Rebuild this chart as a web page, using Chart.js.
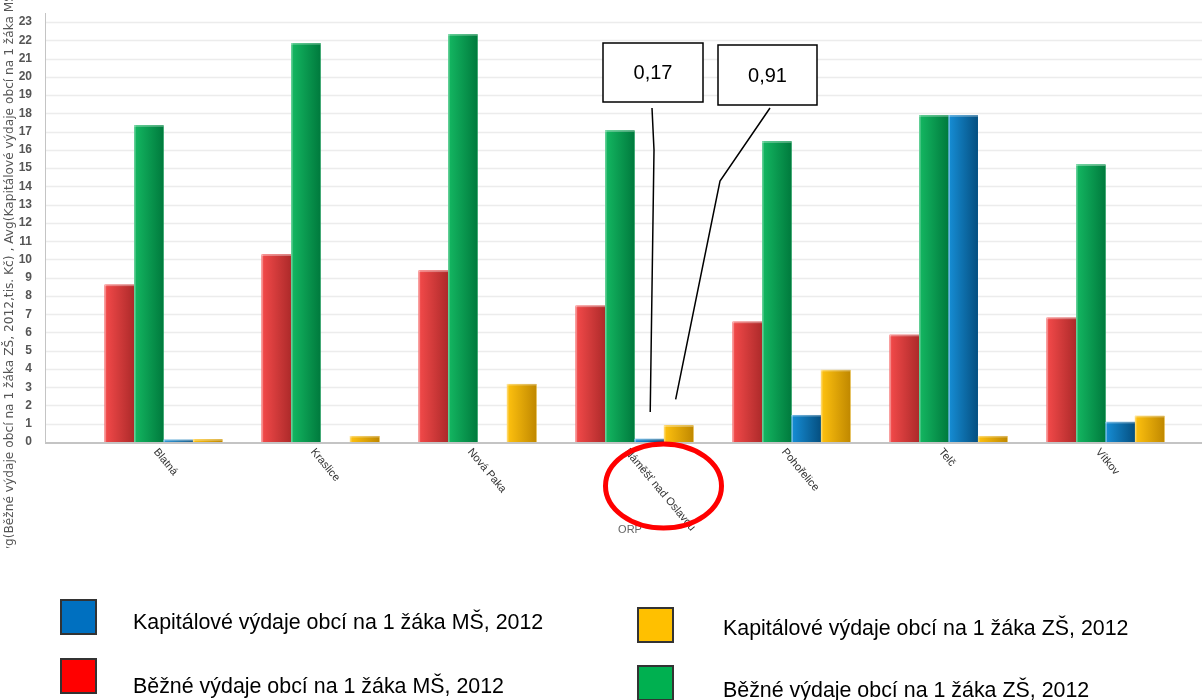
<!DOCTYPE html>
<html>
<head>
<meta charset="utf-8">
<script src="https://cdn.jsdelivr.net/npm/chart.js@4.4.1/dist/chart.umd.min.js"></script>
<style>
	body {margin: 0; background: #fff;}
	#wrap {position: relative; width: 1202px; height: 700px; overflow: hidden;}
	#chart {position: absolute; left: 0; top: 0;}
	.sq {position: absolute; width: 33px; height: 32px; border: 2px solid #333;}
	.lt {position: absolute; font-family: "Liberation Sans", Arial, sans-serif; font-size: 21.4px; line-height: 21px; color: #000; white-space: nowrap;}
</style>
</head>
<body>
<div id="wrap">
	<canvas id="chart" width="1202" height="700"></canvas>
</div>
<script>
const categories = ['Blatná', 'Kraslice', 'Nová Paka', 'Náměšť nad Oslavou', 'Pohořelice', 'Telč', 'Vítkov'];
const bezneMS = [8.62, 10.27, 9.39, 7.47, 6.59, 5.87, 6.81];
const bezneZS = [17.35, 21.85, 22.34, 17.07, 16.47, 17.9, 15.2];
const kapitalMS = [0.12, 0, 0, 0.17, 1.48, 17.9, 1.1];
const kapitalZS = [0.15, 0.33, 3.18, 0.91, 3.95, 0.33, 1.43];
const yTickValues = [0, 1, 2, 3, 4, 5, 6, 7, 8, 9, 10, 11, 12, 13, 14, 15, 16, 17, 18, 19, 20, 21, 22, 23];
const seriesLabels = [
	'Běžné výdaje obcí na 1 žáka MŠ, 2012',
	'Běžné výdaje obcí na 1 žáka ZŠ, 2012',
	'Kapitálové výdaje obcí na 1 žáka MŠ, 2012',
	'Kapitálové výdaje obcí na 1 žáka ZŠ, 2012',
];
const yTitle = 'Avg(Běžné výdaje obcí na 1 žáka ZŠ, 2012,tis. Kč) , Avg(Kapitálové výdaje obcí na 1 žáka MŠ, 2012,tis. Kč)';
const xTitle = 'ORP';

// bar shading, light left edge -> dark right edge
const barLight = ['#f44a4a', '#14b862', '#168ed6', '#ffc20f'];
const barDark = ['#ad2a2a', '#007a3d', '#054f80', '#c08800'];
const legendColors = ['#ff0000', '#00b050', '#0070c0', '#ffc000'];

// callouts: which bar they point at, box and bend of the leader line
const callouts = [
	{dataset: 2, index: 3, box: [603, 43, 100, 59], bend: [654, 150], end: [1, -27], start: [652, 108]},
	{dataset: 3, index: 3, box: [718, 45, 99, 60], bend: [720, 181], end: [-3, -26], start: [770, 108]},
];
const circled = 3;

const AXIS_LEFT = 45;

let decorPlugin = {
	id: 'decor',
	beforeDatasetsDraw(chart) {
		let {ctx, chartArea, scales: {y}} = chart;
		ctx.save();
		ctx.strokeStyle = '#ececec';
		ctx.lineWidth = 1.5;
		y.ticks.forEach(t => {
			if (t.value === 0) return;
			let py = Math.round(y.getPixelForValue(t.value)) + 0.5;
			ctx.beginPath();
			ctx.moveTo(AXIS_LEFT, py);
			ctx.lineTo(chart.width, py);
			ctx.stroke();
		});
		ctx.strokeStyle = '#c4c4c4';
		ctx.lineWidth = 1;
		ctx.beginPath();
		ctx.moveTo(AXIS_LEFT + 0.5, chartArea.top);
		ctx.lineTo(AXIS_LEFT + 0.5, chartArea.bottom);
		ctx.stroke();
		ctx.restore();
	},
	afterDatasetsDraw(chart) {
		let {ctx, chartArea} = chart;
		ctx.save();
		chart.data.datasets.forEach((ds, di) => {
			chart.getDatasetMeta(di).data.forEach(el => {
				let {x, y, base, width} = el.getProps(['x', 'y', 'base', 'width'], true);
				if (base - y < 0.5) return;
				let g = ctx.createLinearGradient(x - width / 2, 0, x + width / 2, 0);
				g.addColorStop(0, barLight[di]);
				g.addColorStop(1, barDark[di]);
				ctx.fillStyle = g;
				ctx.fillRect(x - width / 2, y, width, base - y);
				ctx.fillStyle = 'rgba(255,255,255,0.35)';
				ctx.fillRect(x - width / 2, y, 1.5, base - y);
				ctx.fillRect(x - width / 2, y, width, 1.5);
			});
		});
		// bottom axis line
		ctx.strokeStyle = '#c4c4c4';
		ctx.lineWidth = 2;
		ctx.beginPath();
		ctx.moveTo(AXIS_LEFT, chartArea.bottom + 1);
		ctx.lineTo(chart.width, chartArea.bottom + 1);
		ctx.stroke();
		ctx.restore();
	},
	afterDraw(chart) {
		let {ctx, chartArea, scales: {x}} = chart;
		ctx.save();
		// category labels, rotated down to the right
		ctx.font = '11px "Liberation Sans", Arial, sans-serif';
		ctx.fillStyle = '#333';
		ctx.textAlign = 'left';
		ctx.textBaseline = 'middle';
		categories.forEach((c, i) => {
			let px = x.getPixelForTick(i);
			ctx.save();
			ctx.translate(px - 8, chartArea.bottom + 8);
			ctx.rotate(50 * Math.PI / 180);
			ctx.fillText(c, 0, 0);
			ctx.restore();
		});
		// x title
		ctx.font = '11px "Liberation Sans", Arial, sans-serif';
		ctx.fillStyle = '#666';
		ctx.textAlign = 'center';
		ctx.fillText(xTitle, 630, 530);
		// y title, cut like the original export
		ctx.save();
		ctx.beginPath();
		ctx.rect(0, 0, 30, 548);
		ctx.clip();
		ctx.font = '12.2px "DejaVu Sans", sans-serif';
		ctx.fillStyle = '#555';
		ctx.textAlign = 'left';
		let startY = 546 + ctx.measureText('Av').width;
		ctx.translate(10, startY);
		ctx.rotate(-Math.PI / 2);
		ctx.fillText(yTitle, 0, 0);
		ctx.restore();
		// callouts
		ctx.strokeStyle = '#000';
		callouts.forEach(c => {
			let el = chart.getDatasetMeta(c.dataset).data[c.index];
			let value = chart.data.datasets[c.dataset].data[c.index];
			let [bx, by, bw, bh] = c.box;
			ctx.lineWidth = 1.5;
			ctx.fillStyle = '#fff';
			ctx.fillRect(bx, by, bw, bh);
			ctx.strokeRect(bx, by, bw, bh);
			ctx.fillStyle = '#000';
			ctx.font = '20px "Liberation Sans", Arial, sans-serif';
			ctx.textAlign = 'center';
			ctx.fillText(value.toFixed(2).replace('.', ','), bx + bw / 2, by + bh / 2 + 1);
			ctx.beginPath();
			ctx.moveTo(c.start[0], c.start[1]);
			ctx.lineTo(c.bend[0], c.bend[1]);
			ctx.lineTo(el.x + c.end[0], el.y + c.end[1]);
			ctx.stroke();
		});
		// red ellipse round one label
		ctx.strokeStyle = '#ff0000';
		ctx.lineWidth = 5;
		ctx.beginPath();
		ctx.ellipse(x.getPixelForTick(circled) + 29, chartArea.bottom + 44, 58, 42, 0, 0, Math.PI * 2);
		ctx.stroke();
		ctx.restore();
	},
};

let chart = new Chart(document.getElementById('chart'), {
	type: 'bar',
	data: {
		labels: categories,
		datasets: [
			{label: seriesLabels[0], data: bezneMS, backgroundColor: barLight[0]},
			{label: seriesLabels[1], data: bezneZS, backgroundColor: barLight[1]},
			{label: seriesLabels[2], data: kapitalMS, backgroundColor: barLight[2]},
			{label: seriesLabels[3], data: kapitalZS, backgroundColor: barLight[3]},
		],
	},
	options: {
		responsive: false,
		animation: false,
		layout: {padding: {left: 0, right: 18, top: 13, bottom: 258}},
		datasets: {bar: {categoryPercentage: 0.75, barPercentage: 1}},
		plugins: {legend: {display: false}, tooltip: {enabled: false}},
		scales: {
			x: {display: false},
			y: {
				min: 0,
				max: 23.5,
				grid: {display: false},
				border: {display: false},
				afterBuildTicks(scale) {
					scale.ticks = yTickValues.map(v => ({value: v}));
				},
				afterFit(scale) {
					scale.width = 85;
					scale.paddingTop = 6;
					scale.paddingBottom = 6;
				},
				ticks: {
					padding: 45,
					color: '#555',
					font: {family: '"Liberation Sans", Arial, sans-serif', size: 12, weight: 'bold'},
				},
			},
		},
	},
	plugins: [decorPlugin],
});

// legend, laid out in two columns like the source
let legendSlots = [
	{sq: [60, 658], text: [133, 676]},
	{sq: [637, 665], text: [723, 680]},
	{sq: [60, 599], text: [133, 612]},
	{sq: [637, 607], text: [723, 618]},
];
let wrap = document.getElementById('wrap');
seriesLabels.forEach((label, i) => {
	let slot = legendSlots[i];
	let sq = document.createElement('div');
	sq.className = 'sq';
	sq.style.left = slot.sq[0] + 'px';
	sq.style.top = slot.sq[1] + 'px';
	sq.style.background = legendColors[i];
	wrap.appendChild(sq);
	let t = document.createElement('div');
	t.className = 'lt';
	t.style.left = slot.text[0] + 'px';
	t.style.top = slot.text[1] + 'px';
	t.textContent = label;
	wrap.appendChild(t);
});
</script>
</body>
</html>
